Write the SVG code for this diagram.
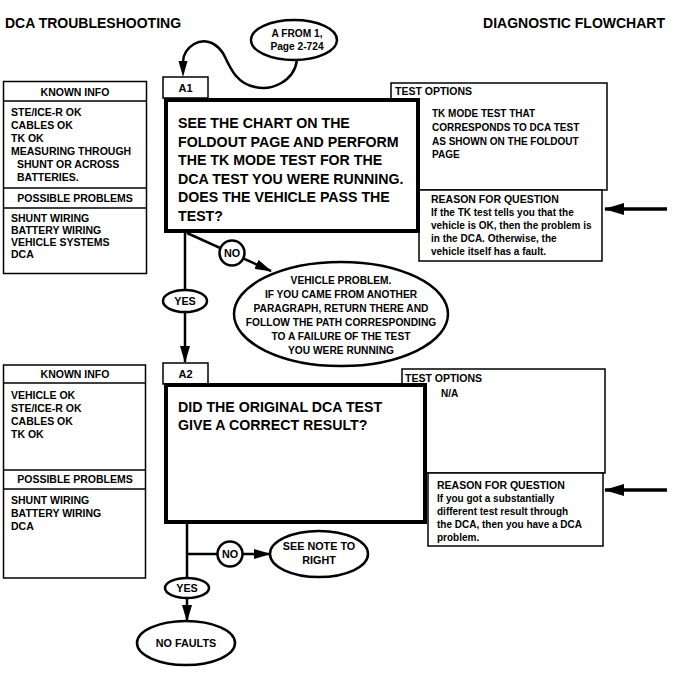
<svg xmlns="http://www.w3.org/2000/svg" width="676" height="673" viewBox="0 0 676 673">
<style>
text{font-family:"Liberation Sans",Arial,Helvetica,sans-serif;font-weight:bold;fill:#000}
.title{font-size:14px}
.side{font-size:10.5px}
.hd{font-size:10.5px}
.q{font-size:14.2px}
.opt{font-size:10px}
.rsn{font-size:10px}
.ov{font-size:10.2px}
.sm{font-size:10.8px}
.tab{font-size:11px}
.c{text-anchor:middle}
.box{fill:#fff;stroke:#000;stroke-width:1.5}
.thick{fill:#fff;stroke:#000;stroke-width:4}
.ell{fill:#fff;stroke:#000;stroke-width:2.5}
.ln{fill:none;stroke:#000;stroke-width:2.5}
.big{fill:none;stroke:#000;stroke-width:3.5}
</style>
<defs>
<marker id="ah" markerUnits="userSpaceOnUse" markerWidth="17" markerHeight="10" refX="16" refY="5" orient="auto">
<path d="M0,0 L17,5 L0,10 z" fill="#000"/>
</marker>
<marker id="ahb" markerUnits="userSpaceOnUse" markerWidth="20" markerHeight="12" refX="19" refY="6" orient="auto">
<path d="M0,0 L20,6 L0,12 z" fill="#000"/>
</marker>
</defs>

<text class="title" x="5" y="28">DCA TROUBLESHOOTING</text>
<text class="title" x="665" y="28" text-anchor="end">DIAGNOSTIC FLOWCHART</text>

<g id="connectors">
<path class="ln" d="M297,60 C294,82 271,91 255,87 C238,84 231,70 225,57 C219,44 206,37 194,44 C186,49 183,56 183,62" />
<path d="M178.5,61 L187.5,61 L183,77 z" fill="#000"/>
<line class="ln" x1="185" y1="233" x2="185" y2="362" marker-end="url(#ah)"/>
<line class="ln" x1="187" y1="233" x2="271" y2="271" marker-end="url(#ah)"/>
<line class="ln" x1="187" y1="524" x2="187" y2="621" marker-end="url(#ah)"/>
<line class="ln" x1="187" y1="554" x2="270" y2="554" marker-end="url(#ah)"/>
<line class="big" x1="667" y1="209" x2="605" y2="209" marker-end="url(#ahb)"/>
<line class="big" x1="667" y1="490" x2="605" y2="490" marker-end="url(#ahb)"/>
</g>

<g id="start">
<ellipse class="ell" cx="294" cy="40" rx="43" ry="20"/>
<text class="ov c" x="297" y="37">A FROM 1,</text>
<text class="ov c" x="297" y="50">Page 2-724</text>
</g>

<g id="known1">
<rect class="box" x="3.5" y="81.5" width="143" height="192"/>
<line class="box" x1="3.5" y1="101" x2="146.5" y2="101"/>
<line class="box" x1="3.5" y1="188" x2="146.5" y2="188"/>
<line class="box" x1="3.5" y1="208" x2="146.5" y2="208"/>
<text class="hd c" x="75" y="96">KNOWN INFO</text>
<text class="side" x="11" y="116">STE/ICE-R OK</text>
<text class="side" x="11" y="129">CABLES OK</text>
<text class="side" x="11" y="142">TK OK</text>
<text class="side" x="11" y="155">MEASURING THROUGH</text>
<text class="side" x="17" y="168">SHUNT OR ACROSS</text>
<text class="side" x="17" y="181">BATTERIES.</text>
<text class="hd c" x="75" y="202">POSSIBLE PROBLEMS</text>
<text class="side" x="11" y="222">SHUNT WIRING</text>
<text class="side" x="11" y="234">BATTERY WIRING</text>
<text class="side" x="11" y="246">VEHICLE SYSTEMS</text>
<text class="side" x="11" y="258">DCA</text>
</g>

<g id="options1">
<rect class="box" x="391" y="83" width="216" height="107"/>
<text class="hd" x="395" y="95">TEST OPTIONS</text>
<text class="opt" x="432" y="117">TK MODE TEST THAT</text>
<text class="opt" x="432" y="131">CORRESPONDS TO DCA TEST</text>
<text class="opt" x="432" y="145">AS SHOWN ON THE FOLDOUT</text>
<text class="opt" x="432" y="158">PAGE</text>
</g>

<g id="reason1">
<rect class="box" x="419" y="190" width="183" height="71"/>
<text class="hd" x="431" y="203">REASON FOR QUESTION</text>
<text class="rsn" x="431" y="216">If the TK test tells you that the</text>
<text class="rsn" x="431" y="229">vehicle is OK, then the problem is</text>
<text class="rsn" x="431" y="242">in the DCA.  Otherwise, the</text>
<text class="rsn" x="431" y="255">vehicle itself has a fault.</text>
</g>

<g id="A1">
<rect class="box" x="163" y="77" width="45" height="21"/>
<text class="tab c" x="185.5" y="92">A1</text>
<rect class="thick" x="166" y="100" width="252" height="131"/>
<text class="q" x="178" y="128">SEE THE CHART ON THE</text>
<text class="q" x="178" y="146.5">FOLDOUT PAGE AND PERFORM</text>
<text class="q" x="178" y="165">THE TK MODE TEST FOR THE</text>
<text class="q" x="178" y="183.5">DCA TEST YOU WERE RUNNING.</text>
<text class="q" x="178" y="202">DOES THE VEHICLE PASS THE</text>
<text class="q" x="178" y="220.5">TEST?</text>
</g>

<g id="no1">
<circle class="ell" cx="232" cy="253" r="12.5"/>
<text class="sm c" x="232" y="257">NO</text>
</g>

<g id="yes1">
<ellipse class="ell" cx="185" cy="301" rx="22" ry="11"/>
<text class="sm c" x="185" y="305">YES</text>
</g>

<g id="vehicleProblem">
<ellipse class="ell" cx="341" cy="314" rx="107" ry="52"/>
<text class="ov c" x="341" y="284">VEHICLE PROBLEM.</text>
<text class="ov c" x="341" y="298">IF YOU CAME FROM ANOTHER</text>
<text class="ov c" x="341" y="312">PARAGRAPH, RETURN THERE AND</text>
<text class="ov c" x="341" y="326">FOLLOW THE PATH CORRESPONDING</text>
<text class="ov c" x="341" y="340">TO A FAILURE OF THE TEST</text>
<text class="ov c" x="341" y="354">YOU WERE RUNNING</text>
</g>

<g id="known2">
<rect class="box" x="3.5" y="365" width="142" height="213"/>
<line class="box" x1="3.5" y1="383" x2="145.5" y2="383"/>
<line class="box" x1="3.5" y1="470" x2="145.5" y2="470"/>
<line class="box" x1="3.5" y1="489" x2="145.5" y2="489"/>
<text class="hd c" x="75" y="378">KNOWN INFO</text>
<text class="side" x="11" y="399">VEHICLE OK</text>
<text class="side" x="11" y="412">STE/ICE-R OK</text>
<text class="side" x="11" y="425">CABLES OK</text>
<text class="side" x="11" y="438">TK OK</text>
<text class="hd c" x="75" y="483">POSSIBLE PROBLEMS</text>
<text class="side" x="11" y="504">SHUNT WIRING</text>
<text class="side" x="11" y="517">BATTERY WIRING</text>
<text class="side" x="11" y="530">DCA</text>
</g>

<g id="options2">
<rect class="box" x="402" y="369" width="203" height="104"/>
<text class="hd" x="405" y="382">TEST OPTIONS</text>
<text class="opt" x="441" y="397">N/A</text>
</g>

<g id="reason2">
<rect class="box" x="428" y="473" width="175" height="73"/>
<text class="hd" x="437" y="489">REASON FOR QUESTION</text>
<text class="rsn" x="437" y="502">If you got a substantially</text>
<text class="rsn" x="437" y="515">different test result through</text>
<text class="rsn" x="437" y="528">the DCA, then you have a DCA</text>
<text class="rsn" x="437" y="541">problem.</text>
</g>

<g id="A2">
<rect class="box" x="163" y="363" width="45" height="21"/>
<text class="tab c" x="185.5" y="378">A2</text>
<rect class="thick" x="166" y="385" width="259" height="137"/>
<text class="q" x="178" y="412">DID THE ORIGINAL DCA TEST</text>
<text class="q" x="178" y="430">GIVE A CORRECT RESULT?</text>
</g>

<g id="no2">
<circle class="ell" cx="230" cy="554" r="12.5"/>
<text class="sm c" x="230" y="558">NO</text>
</g>

<g id="seeNote">
<ellipse class="ell" cx="319" cy="554" rx="49" ry="23"/>
<text class="sm c" x="319" y="550">SEE NOTE TO</text>
<text class="sm c" x="319" y="564">RIGHT</text>
</g>

<g id="yes2">
<ellipse class="ell" cx="187" cy="588" rx="22" ry="10"/>
<text class="sm c" x="187" y="592">YES</text>
</g>

<g id="noFaults">
<ellipse class="ell" cx="186" cy="643" rx="49" ry="22"/>
<text class="sm c" x="186" y="647">NO FAULTS</text>
</g>
</svg>
